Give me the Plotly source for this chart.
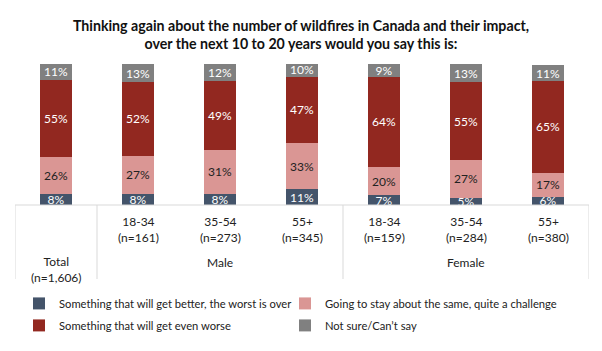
import plotly.graph_objects as go

categories = ["Total", "Male 18-34", "Male 35-54", "Male 55+", "Female 18-34", "Female 35-54", "Female 55+"]
age_labels = ["18-34<br>(n=161)", "35-54<br>(n=273)", "55+<br>(n=345)", "18-34<br>(n=159)", "35-54<br>(n=284)", "55+<br>(n=380)"]
group_labels = ["Total<br>(n=1,606)", "Male", "Female"]

better = [8, 8, 8, 11, 7, 5, 6]
same = [26, 27, 31, 33, 20, 27, 17]
worse = [55, 52, 49, 47, 64, 55, 65]
notsure = [11, 13, 12, 10, 9, 13, 11]

series = [
    ("Something that will get better, the worst is over", better, "#44546A", "white", "legend"),
    ("Going to stay about the same, quite a challenge", same, "#DA9694", "#222222", "legend2"),
    ("Something that will get even worse", worse, "#922820", "white", "legend3"),
    ("Not sure/Can\u2019t say", notsure, "#808080", "white", "legend4"),
]

FONT = "Lato"
xs = list(range(len(categories)))

fig = go.Figure()
for name, vals, color, tcolor, lg in series:
    fig.add_trace(go.Bar(
        x=xs, y=vals, name=name, width=0.39,
        marker=dict(color=color, line=dict(width=0)),
        text=[f"{v}%" for v in vals], textposition="inside",
        insidetextanchor="middle", textangle=0,
        textfont=dict(color=tcolor, size=12, family=FONT),
        legend=lg, hoverinfo="skip",
    ))

leg_common = dict(orientation="h", xanchor="left", yanchor="middle",
                  font=dict(size=11.2, family=FONT, color="#222222"),
                  itemwidth=30, bgcolor="rgba(0,0,0,0)", traceorder="normal")
col1_x = (19 - 15) / 574
col2_x = (285 - 15) / 574
row1_y = -0.698
row2_y = -0.854

fig.update_layout(
    barmode="stack",
    width=602, height=351, autosize=False,
    margin=dict(l=15, r=13, t=64, b=138),
    plot_bgcolor="white", paper_bgcolor="white",
    font=dict(family=FONT, size=12, color="#222222"),
    title=dict(
        text="<b>Thinking again about the number of wildfires in Canada and their impact,<br>over the next 10 to 20 years would you say this is:</b>",
        x=0.5, xanchor="center", xref="container", y=1 - 31 / 351, yref="container", yanchor="middle",
        font=dict(size=14.2, family=FONT, color="#111111"),
    ),
    uniformtext=dict(minsize=12, mode="show"),
    xaxis=dict(range=[-0.5, 6.5], showticklabels=False, showgrid=False, zeroline=False, showline=False, fixedrange=True),
    yaxis=dict(range=[0, 100], visible=False, fixedrange=True),
    legend=dict(x=col1_x, y=row1_y, **leg_common),
    legend2=dict(x=col2_x, y=row1_y, **leg_common),
    legend3=dict(x=col1_x, y=row2_y, **leg_common),
    legend4=dict(x=col2_x, y=row2_y, **leg_common),
    showlegend=True,
)

line_col = "#D9D9D9"
fig.add_shape(type="line", xref="x", yref="paper", x0=-0.5, x1=6.5, y0=0, y1=0,
              line=dict(color=line_col, width=1))
for xv in [-0.5, 0.5, 3.5, 6.5]:
    fig.add_shape(type="line", xref="x", yref="paper", x0=xv, x1=xv, y0=0, y1=-0.525,
                  line=dict(color=line_col, width=1))

for i, lab in enumerate(age_labels):
    fig.add_annotation(x=i + 1, xref="x", y=-0.175, yref="paper", text=lab, showarrow=False,
                       yanchor="middle", font=dict(size=12, family=FONT, color="#222222"))
group_x = [0, 2, 5]
group_y = [-0.455, -0.405, -0.405]
for gx, gy, lab in zip(group_x, group_y, group_labels):
    fig.add_annotation(x=gx, xref="x", y=gy, yref="paper", text=lab, showarrow=False,
                       yanchor="middle", font=dict(size=12, family=FONT, color="#222222"))

fig.write_html("out.html")
